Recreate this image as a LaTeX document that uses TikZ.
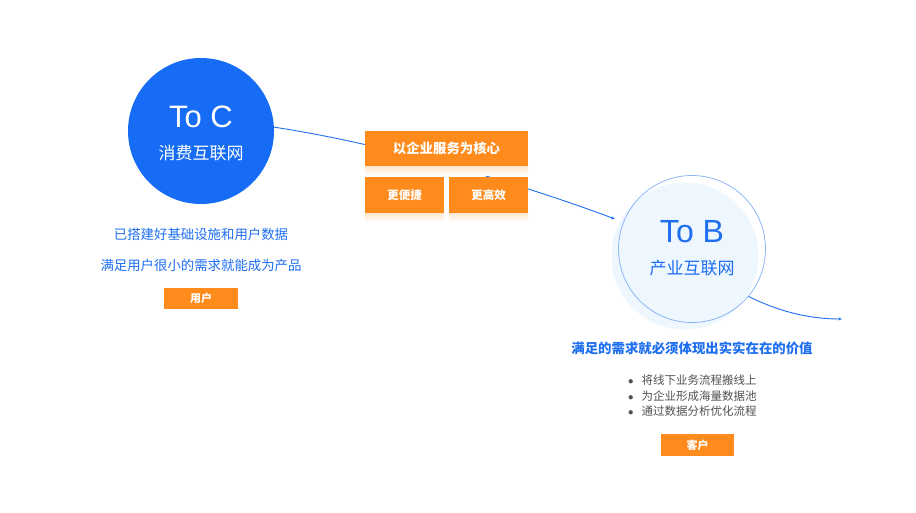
\documentclass[tikz,border=0pt]{standalone}
\usepackage{fontspec}
\setmainfont{Liberation Sans}
\newfontfamily\cjk{Noto Sans CJK SC}
\usetikzlibrary{arrows.meta}
\definecolor{cblue}{HTML}{166CF5}
\definecolor{tblue}{HTML}{1E6EF0}
\definecolor{corange}{HTML}{FF8B1C}
\definecolor{lblue}{HTML}{8DB6F7}
\definecolor{pblue}{HTML}{EEF6FE}
\definecolor{cgray}{HTML}{505050}
\newcommand{\dotmark}{{\fontsize{11}{12}\selectfont$\bullet$}\hspace{8pt}}
\tikzset{
  orangebox/.style={fill=corange, text=white, inner sep=0pt, font=\cjk\bfseries},
  bluetext/.style={text=tblue, inner sep=0pt, font=\cjk\fontsize{13.4}{15}\selectfont},
  bullettext/.style={text=cgray, inner sep=0pt, anchor=west, font=\cjk\fontsize{11.5}{13}\selectfont},
  flow/.style={draw=tblue, line width=0.9pt, -{Stealth[length=4pt,width=3pt]}}
}
\begin{document}
\begin{tikzpicture}[x=1pt,y=-1pt]
    \useasboundingbox (0,0) rectangle (916,513);

    % To C circle
    \node[circle, fill=cblue, minimum size=146pt, inner sep=0pt] (toc) at (201,131) {};
    \node[text=white, inner sep=0pt, font=\fontsize{31}{34}\selectfont] (toctitle) at (201,117) {To C};
    \node[text=white, inner sep=0pt, font=\cjk\fontsize{17}{19}\selectfont] (tocsub) at (201,153) {消费互联网};

    % To B circle
    \fill[pblue] (685,256) circle (73.5);
    \node[circle, draw=lblue, line width=0.8pt, minimum size=147pt, inner sep=0pt] (tob) at (692,249) {};
    \node[text=tblue, inner sep=0pt, font=\fontsize{32}{35}\selectfont] (tobtitle) at (692,232) {To B};
    \node[text=tblue, inner sep=0pt, font=\cjk\fontsize{17}{19}\selectfont] (tobsub) at (692,268) {产业互联网};

    % Flow lines
    \coordinate (tobin) at (615,219);
    \coordinate (tobout) at (842,319);
    \draw[flow] (toc.3) .. controls (340,137) and (470,165) .. (tobin);
    \draw[flow] (tob.-40) .. controls (780,312) and (810,319) .. (tobout);

    % Service boxes with fading shadows
    \shade[top color=corange!22, bottom color=white] (365,166.5) rectangle (528,176);
    \shade[top color=corange!22, bottom color=white] (365,212.5) rectangle (444,222);
    \shade[top color=corange!22, bottom color=white] (449,212.5) rectangle (528,222);
    \node[orangebox, minimum width=163pt, minimum height=35.5pt, font=\cjk\bfseries\fontsize{13.4}{15}\selectfont] (core) at (446.5,148.75) {以企业服务为核心};
    \node[orangebox, minimum width=79pt, minimum height=36pt, font=\cjk\bfseries\fontsize{11.5}{13}\selectfont] (fast) at (404.5,194.75) {更便捷};
    \node[orangebox, minimum width=79pt, minimum height=36pt, font=\cjk\bfseries\fontsize{11.5}{13}\selectfont] (efficient) at (488.5,194.75) {更高效};

    % To C notes
    \node[bluetext] (tocnote1) at (201,234) {已搭建好基础设施和用户数据};
    \node[bluetext] (tocnote2) at (201,265) {满足用户很小的需求就能成为产品};
    \node[orangebox, minimum width=74pt, minimum height=21.5pt, font=\cjk\bfseries\fontsize{11}{12}\selectfont] (user) at (201,298.5) {用户};

    % To B notes
    \node[bluetext, font=\cjk\bfseries\fontsize{13.4}{15}\selectfont] (tobnote) at (692,348) {满足的需求就必须体现出实实在在的价值};
    \node[bullettext] (point1) at (628,380) {\dotmark 将线下业务流程搬线上};
    \node[bullettext] (point2) at (628,396) {\dotmark 为企业形成海量数据池};
    \node[bullettext] (point3) at (628,411) {\dotmark 通过数据分析优化流程};
    \node[orangebox, minimum width=73pt, minimum height=22pt, font=\cjk\bfseries\fontsize{11}{12}\selectfont] (client) at (697.5,445) {客户};
\end{tikzpicture}
\end{document}
